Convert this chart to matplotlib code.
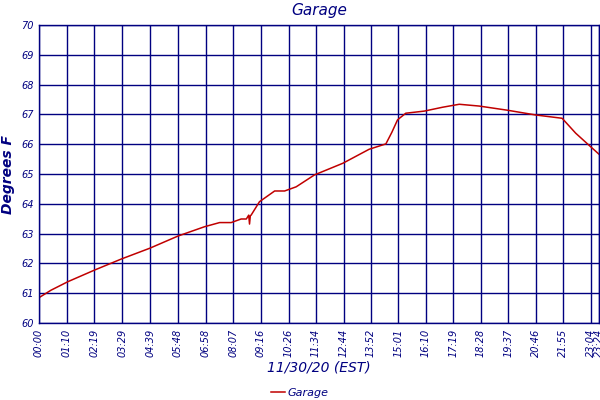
import matplotlib.pyplot as plt

# --- DATA ---
# minutes since midnight, temperature in F
minutos = [0, 30, 73, 140, 207, 278, 349, 415, 453, 482, 507, 520, 526, 528, 530,
           532, 553, 591, 616, 645, 691, 762, 828, 870, 885, 899, 904, 920, 966,
           1012, 1054, 1104, 1175, 1246, 1312, 1346, 1379, 1404]
temperatura = [60.85, 61.1, 61.39, 61.78, 62.15, 62.51, 62.92, 63.23, 63.37, 63.37,
               63.49, 63.49, 63.62, 63.32, 63.6, 63.62, 64.07, 64.43, 64.43, 64.57,
               64.97, 65.36, 65.83, 66.01, 66.4, 66.81, 66.87, 67.04, 67.11, 67.24,
               67.34, 67.28, 67.14, 66.98, 66.87, 66.37, 65.97, 65.67]

rotulos_x = ["00:00", "01:10", "02:19", "03:29", "04:39", "05:48", "06:58", "08:07",
             "09:16", "10:26", "11:34", "12:44", "13:52", "15:01", "16:10", "17:19",
             "18:28", "19:37", "20:46", "21:55", "23:04", "23:24"]
rotulos_y = ["60", "61", "62", "63", "64", "65", "66", "67", "68", "69", "70"]

def para_minutos(s):
    h, m = s.split(":")
    return int(h) * 60 + int(m)

ticks_x = [para_minutos(s) for s in rotulos_x]

azul = "#000080"
vermelho = "#c00000"

fig = plt.figure(figsize=(6, 4), dpi=100)
ax = fig.add_axes([0.065, 0.1925, 0.933, 0.745])

ax.plot(minutos, temperatura, color=vermelho, linewidth=1.1, label="Garage")

ax.set_xlim(0, 1404)
ax.set_ylim(60, 70)
ax.set_xticks(ticks_x)
ax.set_xticklabels(rotulos_x, rotation=90, fontsize=7, style="italic", color=azul)
ax.set_yticks(range(60, 71))
ax.set_yticklabels(rotulos_y, fontsize=7, style="italic", color=azul)
ax.tick_params(length=0, pad=4)
ax.grid(True, color=azul, linewidth=1)
ax.set_axisbelow(True)
for s in ax.spines.values():
    s.set_color(azul)
    s.set_linewidth(1)

ax.set_title("Garage", fontsize=11, style="italic", color=azul, pad=7)
ax.set_xlabel("11/30/20 (EST)", fontsize=10, style="italic", color=azul, labelpad=3)
ax.set_ylabel("Degrees F", fontsize=10, style="italic", fontweight="bold", color=azul, labelpad=4)

leg = fig.legend(loc="lower center", bbox_to_anchor=(0.5, -0.02), frameon=False,
                 fontsize=8, handlelength=1.2, handletextpad=0.3)
for t in leg.get_texts():
    t.set_color(azul)
    t.set_style("italic")

fig.savefig("out.png", dpi=100)
